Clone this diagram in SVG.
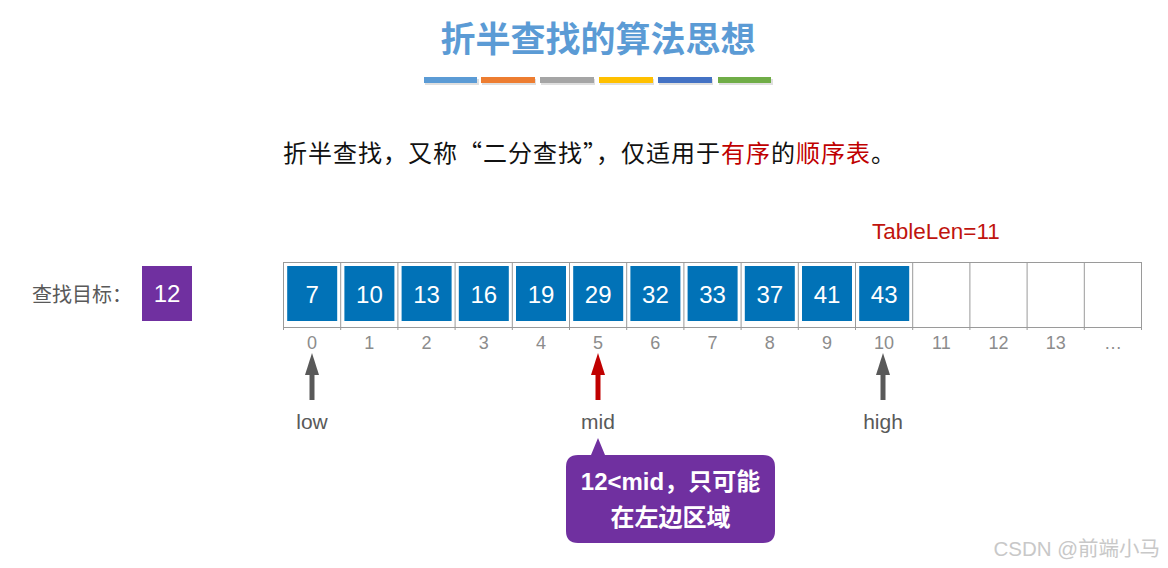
<svg xmlns="http://www.w3.org/2000/svg" width="1168" height="568" viewBox="0 0 1168 568">
<style>
.cjk{font-family:"Noto Sans CJK SC","Noto Sans",sans-serif}
.num{font-family:"Liberation Sans",Arial,sans-serif}
.cell{fill:#0172b7}
.cellt{fill:#fff;font-size:24px;text-anchor:middle}
.idx{fill:#8c8c8c;font-size:18px;text-anchor:middle}
.grid{stroke:#9a9a9a;stroke-width:1;fill:none}
.lbl{fill:#595959;font-size:21px;text-anchor:middle}
</style>
<defs>
<marker id="ahGray" viewBox="0 0 22 14" refX="0" refY="7" markerWidth="22" markerHeight="14" markerUnits="userSpaceOnUse" orient="auto">
<path d="M0,0 L22,7 L0,14 Z" fill="#595959"/>
</marker>
<marker id="ahRed" viewBox="0 0 22 14" refX="0" refY="7" markerWidth="22" markerHeight="14" markerUnits="userSpaceOnUse" orient="auto">
<path d="M0,0 L22,7 L0,14 Z" fill="#c00000"/>
</marker>
</defs>
<rect width="1168" height="568" fill="#fff"/>
<g id="title">
<text x="598" y="52" class="cjk" font-size="35" font-weight="bold" fill="#5b9bd5" text-anchor="middle">折半查找的算法思想</text>
<g fill="#000" opacity="0.12">
<rect x="425" y="79" width="54" height="6"/><rect x="482" y="79" width="54" height="6"/><rect x="541" y="79" width="54" height="6"/><rect x="600" y="79" width="54" height="6"/><rect x="659" y="79" width="54" height="6"/><rect x="719" y="79" width="54" height="6"/>
</g>
<rect x="424" y="77" width="53" height="6" fill="#5b9bd5"/>
<rect x="481" y="77" width="54" height="6" fill="#ed7d31"/>
<rect x="540" y="77" width="54" height="6" fill="#a5a5a5"/>
<rect x="599" y="77" width="54" height="6" fill="#ffc000"/>
<rect x="658" y="77" width="54" height="6" fill="#4472c4"/>
<rect x="718" y="77" width="53" height="6" fill="#70ad47"/>
</g>
<g id="subtitle">
<text x="283" y="162" class="cjk" font-size="24" letter-spacing="1" fill="#111">折半查找，又称“二分查找”，仅适用于<tspan fill="#c00000">有序</tspan>的<tspan fill="#c00000">顺序表</tspan>。</text>
</g>
<g id="tablelen">
<text x="872" y="239" class="num" font-size="22.5" fill="#c0140e">TableLen=11</text>
</g>
<g id="target">
<text x="32" y="302" class="cjk" font-size="20" fill="#595959">查找目标：</text>
<rect x="142" y="266" width="50" height="55" fill="#7030a0"/>
<text x="167" y="302" class="num cellt">12</text>
</g>
<g id="table">
<path class="grid" d="M283.5,262.5 H1141.5 M283.5,327.5 H1141.5"/>
<path class="grid" d="M283.5,262 V330 M340.7,262 V330 M397.9,262 V330 M455.1,262 V330 M512.3,262 V330 M569.5,262 V330 M626.7,262 V330 M683.9,262 V330 M741.1,262 V330 M798.3,262 V330 M855.5,262 V330 M912.7,262 V330 M969.9,262 V330 M1027.1,262 V330 M1084.3,262 V330 M1141.5,262 V330"/>
<g id="c0"><rect class="cell" x="287.2" y="266" width="50" height="55"/><text class="num cellt" x="312.2" y="302.5">7</text></g>
<g id="c1"><rect class="cell" x="344.4" y="266" width="50" height="55"/><text class="num cellt" x="369.4" y="302.5">10</text></g>
<g id="c2"><rect class="cell" x="401.6" y="266" width="50" height="55"/><text class="num cellt" x="426.6" y="302.5">13</text></g>
<g id="c3"><rect class="cell" x="458.8" y="266" width="50" height="55"/><text class="num cellt" x="483.8" y="302.5">16</text></g>
<g id="c4"><rect class="cell" x="516" y="266" width="50" height="55"/><text class="num cellt" x="541" y="302.5">19</text></g>
<g id="c5"><rect class="cell" x="573.2" y="266" width="50" height="55"/><text class="num cellt" x="598.2" y="302.5">29</text></g>
<g id="c6"><rect class="cell" x="630.4" y="266" width="50" height="55"/><text class="num cellt" x="655.4" y="302.5">32</text></g>
<g id="c7"><rect class="cell" x="687.6" y="266" width="50" height="55"/><text class="num cellt" x="712.6" y="302.5">33</text></g>
<g id="c8"><rect class="cell" x="744.8" y="266" width="50" height="55"/><text class="num cellt" x="769.8" y="302.5">37</text></g>
<g id="c9"><rect class="cell" x="802" y="266" width="50" height="55"/><text class="num cellt" x="827" y="302.5">41</text></g>
<g id="c10"><rect class="cell" x="859.2" y="266" width="50" height="55"/><text class="num cellt" x="884.2" y="302.5">43</text></g>
</g>
<g id="indices" class="num">
<text class="idx" x="312.1" y="349">0</text>
<text class="idx" x="369.3" y="349">1</text>
<text class="idx" x="426.5" y="349">2</text>
<text class="idx" x="483.7" y="349">3</text>
<text class="idx" x="540.9" y="349">4</text>
<text class="idx" x="598.1" y="349">5</text>
<text class="idx" x="655.3" y="349">6</text>
<text class="idx" x="712.5" y="349">7</text>
<text class="idx" x="769.7" y="349">8</text>
<text class="idx" x="826.9" y="349">9</text>
<text class="idx" x="884.1" y="349">10</text>
<text class="idx" x="941.3" y="349">11</text>
<text class="idx" x="998.5" y="349">12</text>
<text class="idx" x="1055.7" y="349">13</text>
<text class="idx" x="1112.9" y="349">…</text>
</g>
<g id="connectors">
<line x1="312" y1="400" x2="312" y2="375" stroke="#595959" stroke-width="5" marker-end="url(#ahGray)"/>
<line x1="598" y1="400" x2="598" y2="375" stroke="#c00000" stroke-width="5" marker-end="url(#ahRed)"/>
<line x1="883" y1="400" x2="883" y2="375" stroke="#595959" stroke-width="5" marker-end="url(#ahGray)"/>
</g>
<g id="low"><text class="num lbl" x="312" y="429">low</text></g>
<g id="mid"><text class="num lbl" x="598" y="429">mid</text></g>
<g id="high"><text class="num lbl" x="883" y="429">high</text></g>
<g id="callout">
<path d="M578,455 H591 L598,438 L605,455 H763 Q775,455 775,467 V531 Q775,543 763,543 H578 Q566,543 566,531 V467 Q566,455 578,455 Z" fill="#7030a0"/>
<text x="670.5" y="490" class="cjk" font-size="24" font-weight="bold" fill="#fff" text-anchor="middle"><tspan class="num">12&lt;mid</tspan>，只可能</text>
<text x="670.5" y="526" class="cjk" font-size="24" font-weight="bold" fill="#fff" text-anchor="middle">在左边区域</text>
</g>
<g id="watermark">
<text x="1160" y="556" class="cjk" font-size="20.5" fill="#c8c8c8" text-anchor="end"><tspan class="num">CSDN @</tspan>前端小马</text>
</g>
</svg>
